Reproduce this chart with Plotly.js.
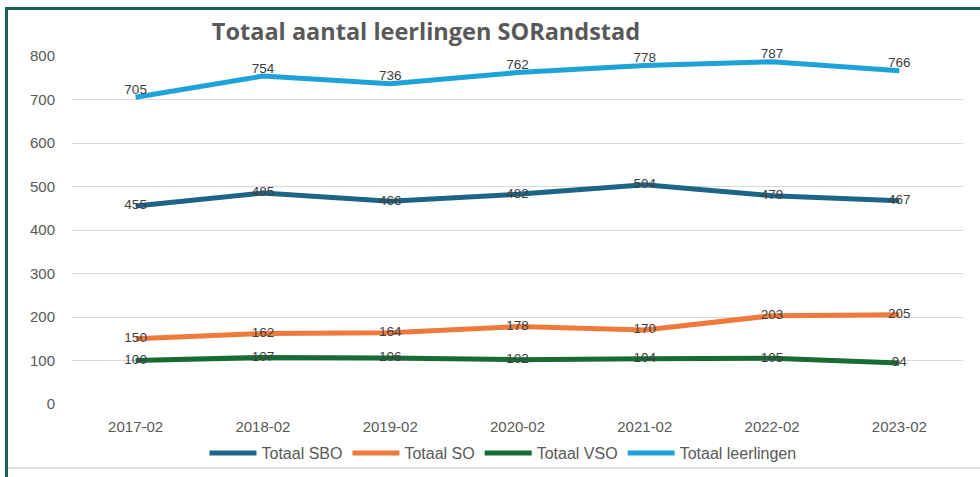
<!DOCTYPE html>
<html><head><meta charset="utf-8">
<script src="https://cdn.plot.ly/plotly-3.0.1.min.js"></script>
<style>html,body{margin:0;padding:0;background:#fff;}#chart{width:980px;height:477px;}</style>
</head><body><div id="chart"></div>
<script>
const categories = ["2017-02","2018-02","2019-02","2020-02","2021-02","2022-02","2023-02"];
const sbo = [455, 485, 466, 482, 504, 479, 467];
const so = [150, 162, 164, 178, 170, 203, 205];
const vso = [100, 107, 106, 102, 104, 105, 94];
const totaal = [705, 754, 736, 762, 778, 787, 766];
const yTicks = [0,100,200,300,400,500,600,700,800];

function px2x(p){ return (p-72)/891; }
function px2y(p){ return (404-p)/348; }

function series(name, vals, color, pos){
  return {x: categories, y: vals, name: name, type: 'scatter', mode: 'lines+text',
    text: vals.map(String), textposition: pos,
    textfont: {family: 'Liberation Sans, Arial, sans-serif', size: 13.5, color: '#404040'},
    line: {color: color, width: 5}, cliponaxis: false, hoverinfo: 'skip'};
}
const data = [
  series('Totaal SBO', sbo, '#1c6587', 'middle center'),
  series('Totaal SO', so, '#ef7a3c', 'middle center'),
  series('Totaal VSO', vso, '#196b36', 'middle center'),
  series('Totaal leerlingen', totaal, '#1da3d8', 'top center')
];
const layout = {
  width: 980, height: 477,
  margin: {l: 72, r: 17, t: 56, b: 73, autoexpand: false},
  paper_bgcolor: '#fff', plot_bgcolor: '#fff',
  font: {family: 'Liberation Sans, Arial, sans-serif', color: '#595959', size: 15},
  title: {text: '<b>Totaal aantal leerlingen SORandstad</b>', font: {family: 'Open Sans, Liberation Sans, sans-serif', size: 23.5, color: '#595959'},
    xref: 'paper', x: px2x(426), xanchor: 'center', yref: 'container', y: 1 - 32/477, yanchor: 'middle'},
  xaxis: {type: 'category', range: [-0.5, 6.5], showgrid: false, zeroline: false, showline: false,
    ticks: '', ticklabelstandoff: 12, tickfont: {size: 15, color: '#595959'}},
  yaxis: {range: [0, 800], tickvals: yTicks, showgrid: true, gridcolor: '#d9d9d9', gridwidth: 1,
    zeroline: false, showline: false, ticks: '', ticklabelstandoff: 16, tickfont: {size: 15, color: '#595959'}},
  showlegend: true,
  legend: {orientation: 'h', xref: 'paper', x: px2x(503), xanchor: 'center', yref: 'container', y: 1 - 453/477, yanchor: 'middle',
    font: {size: 16, color: '#595959'}, itemwidth: 47, tracegroupgap: 0, bgcolor: 'rgba(0,0,0,0)'},
  shapes: [
    {type: 'line', xref: 'paper', yref: 'paper', x0: px2x(5), x1: px2x(980), y0: px2y(8.5), y1: px2y(8.5), line: {color: '#1d5f56', width: 3}},
    {type: 'line', xref: 'paper', yref: 'paper', x0: px2x(6.5), x1: px2x(6.5), y0: px2y(7), y1: px2y(477), line: {color: '#1d5f56', width: 3}},
    {type: 'line', xref: 'paper', yref: 'paper', x0: px2x(8), x1: px2x(980), y0: px2y(468), y1: px2y(468), line: {color: '#d9d9d9', width: 1.5}}
  ]
};
Plotly.newPlot('chart', data, layout, {staticPlot: true, displayModeBar: false});
</script></body></html>
